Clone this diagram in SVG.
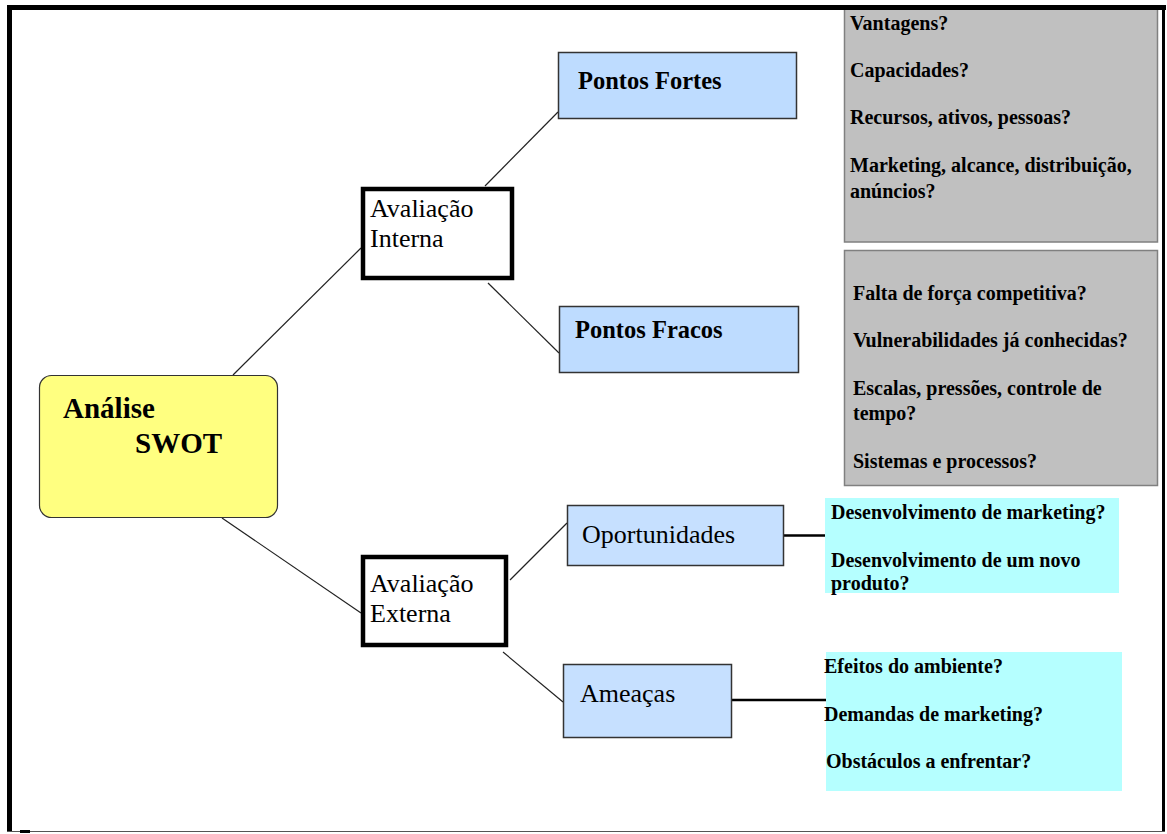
<svg xmlns="http://www.w3.org/2000/svg" width="1167" height="834" viewBox="0 0 1167 834">
<style>
.serif{font-family:"Liberation Serif","Times New Roman",serif;fill:#000}
.b{font-weight:bold}
.big{font-size:29px}
.mid{font-size:26px}
.q{font-size:20px;font-weight:bold}
.blue{fill:#BEDCFF;stroke:#333;stroke-width:1.5}
.blue2{fill:#C6E0FF;stroke:#333;stroke-width:1.5}
.eval{fill:#fff;stroke:#000;stroke-width:4.5}
.gray{fill:#C0C0C0;stroke:#808080;stroke-width:1.5}
.cyan{fill:#B5FFFF}
.thin{stroke:#222;stroke-width:1.2;fill:none}
.thick{stroke:#000;stroke-width:2.5;fill:none}
</style>
<rect width="1167" height="834" fill="#fff"/>

<g id="connectors">
  <line class="thin" x1="233" y1="375" x2="361" y2="248"/>
  <line class="thin" x1="222" y1="518" x2="361" y2="613"/>
  <line class="thin" x1="485" y1="186" x2="558" y2="112"/>
  <line class="thin" x1="488" y1="283" x2="559" y2="353"/>
  <line class="thin" x1="510" y1="580" x2="567" y2="523"/>
  <line class="thin" x1="503" y1="652" x2="563" y2="702"/>
  <line class="thick" x1="783" y1="535.5" x2="826" y2="535.5"/>
  <line class="thick" x1="732" y1="700" x2="829" y2="700"/>
</g>

<g id="node-swot">
  <rect x="39.5" y="375.5" width="238" height="142" rx="12" fill="#FFFF80" stroke="#333" stroke-width="1.2"/>
  <text class="serif b big" x="63" y="418">Análise</text>
  <text class="serif b big" x="135" y="453">SWOT</text>
</g>

<g id="node-aval-interna">
  <rect class="eval" x="363" y="189" width="149" height="89"/>
  <text class="serif mid" x="370" y="217">Avaliação</text>
  <text class="serif mid" x="370" y="247">Interna</text>
</g>

<g id="node-aval-externa">
  <rect class="eval" x="363" y="557" width="143" height="88"/>
  <text class="serif mid" x="370" y="592">Avaliação</text>
  <text class="serif mid" x="370" y="622">Externa</text>
</g>

<g id="node-pontos-fortes">
  <rect class="blue" x="558.5" y="52.5" width="238" height="66"/>
  <text class="serif b" font-size="24.5" x="578" y="89">Pontos Fortes</text>
</g>

<g id="node-pontos-fracos">
  <rect class="blue" x="559.5" y="306.5" width="239" height="66"/>
  <text class="serif b" font-size="24.5" x="575" y="338">Pontos Fracos</text>
</g>

<g id="node-oportunidades">
  <rect class="blue2" x="567.5" y="505.5" width="216" height="60"/>
  <text class="serif mid" x="582" y="543">Oportunidades</text>
</g>

<g id="node-ameacas">
  <rect class="blue2" x="563.5" y="664.5" width="168" height="73"/>
  <text class="serif mid" x="580" y="702">Ameaças</text>
</g>

<g id="node-fortes-detalhes">
  <rect class="gray" x="844.5" y="8" width="313" height="234"/>
  <text class="serif q" x="850" y="30">Vantagens?</text>
  <text class="serif q" x="850" y="77">Capacidades?</text>
  <text class="serif q" x="850" y="124">Recursos, ativos, pessoas?</text>
  <text class="serif q" x="850" y="172">Marketing, alcance, distribuição,</text>
  <text class="serif q" x="850" y="198">anúncios?</text>
</g>

<g id="node-fracos-detalhes">
  <rect class="gray" x="844.5" y="250.5" width="313" height="235"/>
  <text class="serif q" x="853" y="300">Falta de força competitiva?</text>
  <text class="serif q" x="853" y="347">Vulnerabilidades já conhecidas?</text>
  <text class="serif q" x="853" y="395">Escalas, pressões, controle de</text>
  <text class="serif q" x="853" y="420">tempo?</text>
  <text class="serif q" x="853" y="468">Sistemas e processos?</text>
</g>

<g id="node-oportunidades-detalhes">
  <rect class="cyan" x="825" y="498" width="294" height="95"/>
  <text class="serif q" x="831" y="519">Desenvolvimento de marketing?</text>
  <text class="serif q" x="831" y="567">Desenvolvimento de um novo</text>
  <text class="serif q" x="831" y="590">produto?</text>
</g>

<g id="node-ameacas-detalhes">
  <rect class="cyan" x="826" y="652" width="296" height="139"/>
  <text class="serif q" x="824" y="673">Efeitos do ambiente?</text>
  <text class="serif q" x="824" y="721">Demandas de marketing?</text>
  <text class="serif q" x="826" y="768">Obstáculos a enfrentar?</text>
</g>

<g id="frame">
  <line x1="7" y1="7.5" x2="1166" y2="7.5" stroke="#000" stroke-width="5"/>
  <line x1="9.5" y1="5" x2="9.5" y2="832" stroke="#000" stroke-width="5"/>
  <line x1="1163.5" y1="5" x2="1163.5" y2="832" stroke="#000" stroke-width="3"/>
  <line x1="7" y1="831.5" x2="1165" y2="831.5" stroke="#555" stroke-width="1"/>
  <rect x="20" y="830" width="10" height="3" fill="#000"/>
</g>
</svg>
